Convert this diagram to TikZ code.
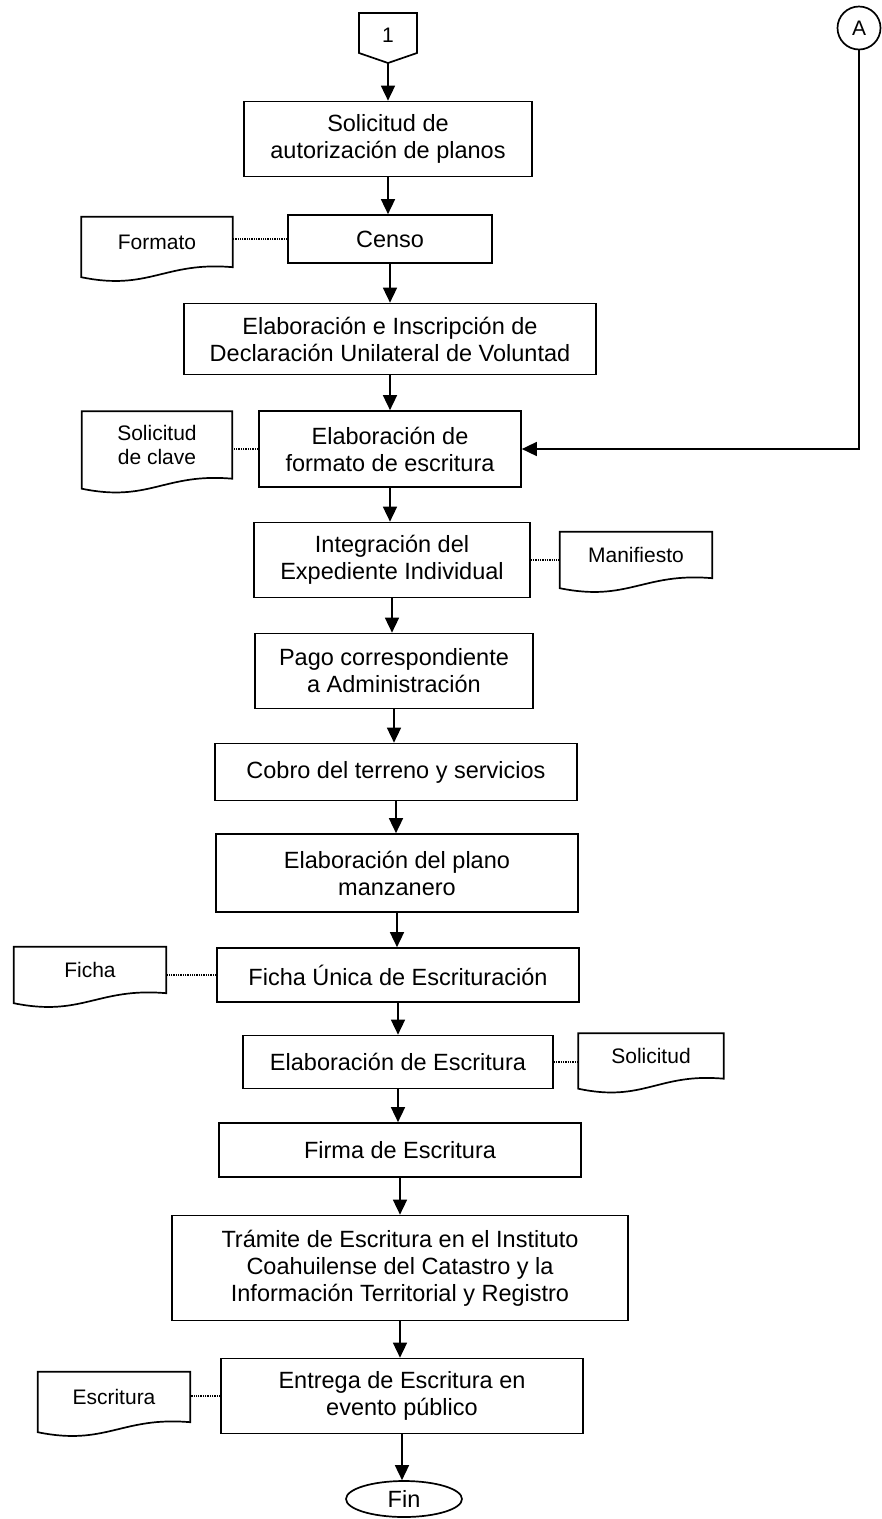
\documentclass[tikz,border=0pt]{standalone}
\usepackage{fontspec}
\setmainfont{Liberation Sans}
\usetikzlibrary{arrows.meta,shapes.geometric,calc}
\newcommand\boxfont{\fontsize{23.5}{27}\selectfont}
\newcommand\docfont{\fontsize{21}{24}\selectfont}
\newcommand\docwave[1]{%
  \draw[docline] ($(#1.south west)+(0,10)$) -- (#1.north west) -- (#1.north east) -- (#1.south east)
    .. controls ($(#1.south west)!0.55!(#1.south east)+(0,-6)$) and ($(#1.south west)!0.45!(#1.south east)+(0,24)$)
    .. ($(#1.south west)+(0,10)$) -- cycle;}
\tikzset{
  box/.style={draw, line width=1.7pt, rectangle, align=center, inner sep=0pt, font=\boxfont},
  doc/.style={draw=none, align=center, inner sep=0pt, font=\docfont},
  docline/.style={line width=1.7pt, line join=miter},
  arr/.style={line width=1.6pt, -{Triangle[length=15pt,width=14pt]}},
  dots/.style={line width=1.3pt, densely dotted},
}
\begin{document}
\begin{tikzpicture}[x=1pt,y=-1pt]
\useasboundingbox (0,0) rectangle (882,1519);

% off-page connector 1
\draw[docline] (359,13) -- (417,13) -- (417,53) -- (388,63) -- (359,53) -- cycle;
\node[font=\fontsize{21}{24}\selectfont] (one) at (388,35) {1};
\coordinate (onetip) at (388,63);

% connector A
\node[draw, circle, line width=1.7pt, minimum size=43pt, inner sep=0pt, font=\fontsize{21}{24}\selectfont] (A) at (859,28) {A};

% process boxes
\node[box, minimum width=288pt, minimum height=75pt] (sol) at (388,139) {Solicitud de\\autorización de planos};
\node[box, minimum width=204pt, minimum height=48pt] (censo) at (390,239) {Censo};
\node[box, minimum width=412pt, minimum height=71pt] (decl) at (390,339) {Elaboración e Inscripción de\\Declaración Unilateral de Voluntad};
\node[box, minimum width=262pt, minimum height=76pt] (form) at (390,449) {Elaboración de\\formato de escritura};
\node[box, minimum width=276pt, minimum height=75pt] (integ) at (392,560) {Integración del\\Expediente Individual};
\node[box, minimum width=278pt, minimum height=75pt] (pago) at (394,671) {Pago correspondiente\\a Administración};
\node[box, minimum width=362pt, minimum height=57pt] (cobro) at (396,772) {Cobro del terreno y servicios};
\node[box, minimum width=362pt, minimum height=78pt] (plano) at (397,873) {Elaboración del plano\\manzanero};
\node[box, minimum width=362pt, minimum height=54pt] (ficha) at (398,975) {Ficha Única de Escrituración};
\node[box, minimum width=310pt, minimum height=53pt] (elabesc) at (398,1062) {Elaboración de Escritura};
\node[box, minimum width=362pt, minimum height=54pt] (firma) at (400,1150) {Firma de Escritura};
\node[box, minimum width=456pt, minimum height=105pt] (tram) at (400,1268) {Trámite de Escritura en el Instituto\\Coahuilense del Catastro y la\\Información Territorial y Registro};
\node[box, minimum width=362pt, minimum height=75pt] (entrega) at (402,1396) {Entrega de Escritura en\\evento público};
\node[draw, ellipse, line width=1.7pt, minimum width=116pt, minimum height=36pt, inner sep=0pt, font=\boxfont] (fin) at (404,1499) {Fin};

% documents
\node[doc, minimum width=151pt, minimum height=50pt] (fdoc) at (157,242) {Formato};
\docwave{fdoc}
\node[doc, minimum width=150pt, minimum height=67pt] (cdoc) at (157,445) {Solicitud\\de clave};
\docwave{cdoc}
\node[doc, minimum width=152pt, minimum height=46pt] (mdoc) at (636,555) {Manifiesto};
\docwave{mdoc}
\node[doc, minimum width=152pt, minimum height=46pt] (fichadoc) at (90,970) {Ficha};
\docwave{fichadoc}
\node[doc, minimum width=145pt, minimum height=45pt] (sdoc) at (651,1056) {Solicitud};
\docwave{sdoc}
\node[doc, minimum width=152pt, minimum height=50pt] (edoc) at (114,1397) {Escritura};
\docwave{edoc}

% flow arrows
\draw[arr] (onetip) -- (onetip |- sol.north);
\draw[arr] (sol.south) -- (sol.south |- censo.north);
\draw[arr] (censo.south) -- (censo.south |- decl.north);
\draw[arr] (decl.south) -- (decl.south |- form.north);
\draw[arr] (form.south) -- (form.south |- integ.north);
\draw[arr] (integ.south) -- (integ.south |- pago.north);
\draw[arr] (pago.south) -- (pago.south |- cobro.north);
\draw[arr] (cobro.south) -- (cobro.south |- plano.north);
\draw[arr] (plano.south) -- (plano.south |- ficha.north);
\draw[arr] (ficha.south) -- (ficha.south |- elabesc.north);
\draw[arr] (elabesc.south) -- (elabesc.south |- firma.north);
\draw[arr] (firma.south) -- (firma.south |- tram.north);
\draw[arr] (tram.south) -- (tram.south |- entrega.north);
\draw[arr] (entrega.south) -- (entrega.south |- fin.north);
\draw[arr] (A.south) |- (form.east);

% dotted links
\draw[dots] (censo.west) -- (censo.west -| fdoc.east);
\draw[dots] (form.west) -- (form.west -| cdoc.east);
\draw[dots] (integ.east) -- (integ.east -| mdoc.west);
\draw[dots] (ficha.west) -- (ficha.west -| fichadoc.east);
\draw[dots] (elabesc.east) -- (elabesc.east -| sdoc.west);
\draw[dots] (entrega.west) -- (entrega.west -| edoc.east);
\end{tikzpicture}
\end{document}
